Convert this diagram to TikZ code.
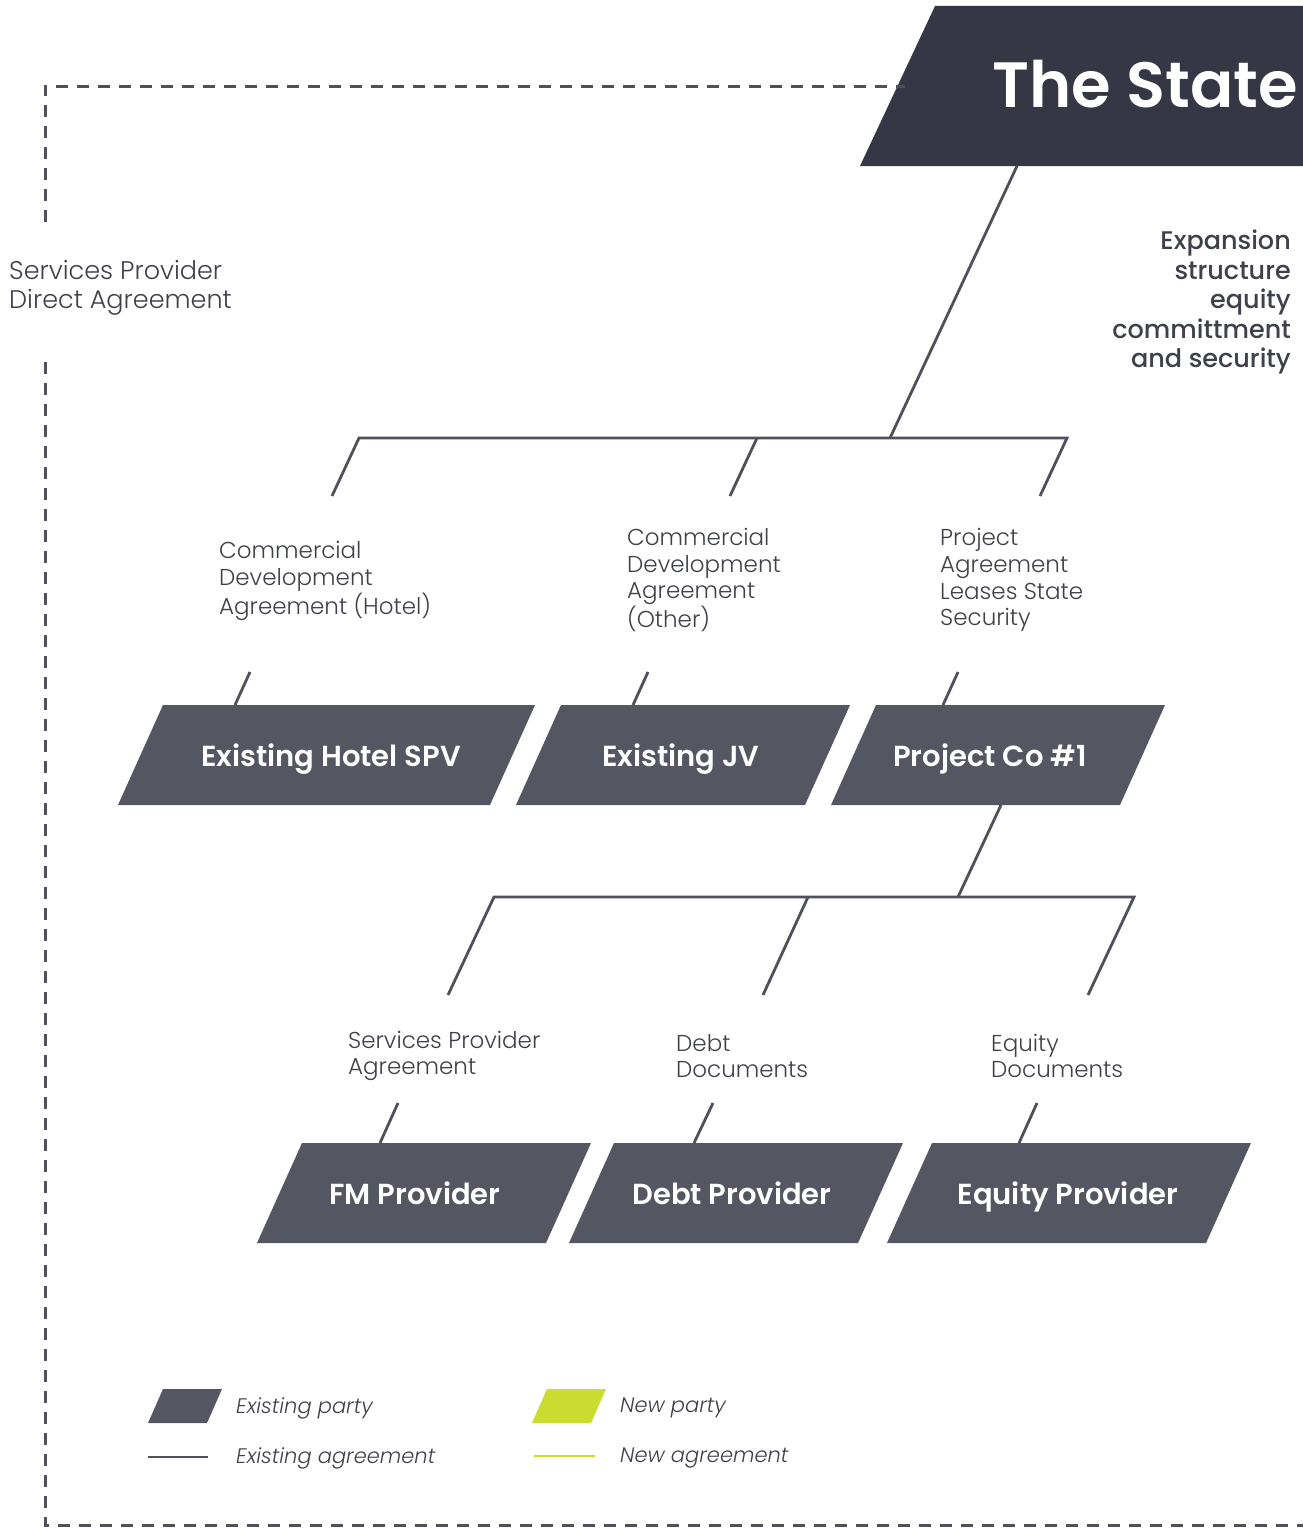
\documentclass[tikz,border=0pt]{standalone}
\usepackage{fontspec}
\setmainfont{Poppins}[UprightFont=* Light, ItalicFont=* Light Italic, BoldFont=* SemiBold]
\newfontfamily\medfont{Poppins Medium}
\definecolor{statecol}{HTML}{353744}
\definecolor{boxcol}{HTML}{545761}
\definecolor{linecol}{HTML}{4E505A}
\definecolor{txtcol}{HTML}{3E404A}
\definecolor{newcol}{HTML}{C9DC2F}
\tikzset{
  partytxt/.style={anchor=base, inner sep=0pt, text=white, font=\bfseries\fontsize{29}{32}\selectfont},
  link/.style={draw=linecol, line width=2.8pt},
  dashlink/.style={draw=linecol, line width=3pt, dash pattern=on 12pt off 9pt},
  lbl/.style={anchor=west, align=left, inner sep=0pt, text=txtcol, font=\fontsize{23}{26.8}\selectfont},
  legtxt/.style={anchor=west, inner sep=0pt, text=txtcol, font=\itshape\fontsize{21}{24}\selectfont}
}
\begin{document}
\begin{tikzpicture}[x=1pt,y=-1pt]
\useasboundingbox (0,0) rectangle (1303,1528);
% The State
\fill[statecol] (860,166) -- (935,6) -- (1303,6) -- (1303,166) -- cycle;
\node[text=white, font=\bfseries\fontsize{64}{70}\selectfont, inner sep=0pt] (state) at (1145,84) {The State};
\coordinate (stateb) at (1017,166);
% Expansion text
\node[anchor=east, align=right, inner sep=0pt, text=txtcol, font=\medfont\fontsize{25.5}{29.5}\selectfont] (exp) at (1291,302)
  {Expansion\\structure\\equity\\committment\\and security};
% Dashed direct agreement
\coordinate (d1) at (45,222);
\coordinate (d2) at (45,86);
\coordinate (d3) at (905,86);
\coordinate (d4) at (45,362);
\coordinate (d5) at (45,1525);
\coordinate (d6) at (1303,1525);
\draw[dashlink] (d1) -- (d2) -- (d3);
\draw[dashlink] (d4) -- (d5) -- (d6);
\node[anchor=west, align=left, inner sep=0pt, text=txtcol, font=\fontsize{25.5}{29}\selectfont] (spda) at (9,288)
  {Services Provider\\Direct Agreement};
% level 1 tree
\coordinate (j1) at (890,438);
\coordinate (b1l) at (359,438);
\coordinate (b1m) at (757,438);
\coordinate (b1r) at (1067,438);
\coordinate (e1l) at (332,496);
\coordinate (e1m) at (730,496);
\coordinate (e1r) at (1040,496);
\draw[link] (stateb) -- (j1);
\draw[link] (e1l) -- (b1l) -- (b1r) -- (e1r);
\draw[link] (b1m) -- (e1m);
\node[lbl] (l1) at (219,581) {Commercial\\Development\\Agreement (Hotel)};
\node[lbl] (l2) at (627,580) {Commercial\\Development\\Agreement\\(Other)};
\node[lbl] (l3) at (940,580) {Project\\Agreement\\Leases State\\Security};
% level 1 boxes
\fill[boxcol] (118,805) -- (163,705) -- (535,705) -- (490,805) -- cycle;
\fill[boxcol] (516,805) -- (561,705) -- (850,705) -- (805,805) -- cycle;
\fill[boxcol] (831,805) -- (876,705) -- (1165,705) -- (1120,805) -- cycle;
\node[partytxt] (hotel) at (331,766) {Existing Hotel SPV};
\node[partytxt] (jv) at (681,766) {Existing JV};
\node[partytxt] (pco) at (990,766) {Project Co \#1};
\coordinate (s1a) at (250,672); \coordinate (s1b) at (235,705);
\coordinate (s2a) at (648,672); \coordinate (s2b) at (633,705);
\coordinate (s3a) at (958,672); \coordinate (s3b) at (943,705);
\draw[link] (s1a) -- (s1b);
\draw[link] (s2a) -- (s2b);
\draw[link] (s3a) -- (s3b);
% level 2 tree
\coordinate (pcob) at (1001,805);
\coordinate (j2) at (958,897);
\coordinate (b2l) at (494,897);
\coordinate (b2m) at (808,897);
\coordinate (b2r) at (1134,897);
\coordinate (e2l) at (448,995);
\coordinate (e2m) at (763,995);
\coordinate (e2r) at (1088,995);
\draw[link] (pcob) -- (j2);
\draw[link] (e2l) -- (b2l) -- (b2r) -- (e2r);
\draw[link] (b2m) -- (e2m);
\node[lbl] (m1) at (348,1056) {Services Provider\\Agreement};
\node[lbl] (m2) at (676,1056) {Debt\\Documents};
\node[lbl] (m3) at (991,1056) {Equity\\Documents};
% level 2 boxes
\fill[boxcol] (257,1243) -- (302,1143) -- (591,1143) -- (546,1243) -- cycle;
\fill[boxcol] (569,1243) -- (614,1143) -- (903,1143) -- (858,1243) -- cycle;
\fill[boxcol] (887,1243) -- (932,1143) -- (1251,1143) -- (1206,1243) -- cycle;
\node[partytxt] (fm) at (415,1204) {FM Provider};
\node[partytxt] (debt) at (732,1204) {Debt Provider};
\node[partytxt] (eq) at (1068,1204) {Equity Provider};
\coordinate (t1a) at (398,1103); \coordinate (t1b) at (380,1143);
\coordinate (t2a) at (713,1103); \coordinate (t2b) at (694,1143);
\coordinate (t3a) at (1037,1103); \coordinate (t3b) at (1019,1143);
\draw[link] (t1a) -- (t1b);
\draw[link] (t2a) -- (t2b);
\draw[link] (t3a) -- (t3b);
% legend
\fill[boxcol] (148,1423) -- (163,1389) -- (222,1389) -- (207,1423) -- cycle;
\node[legtxt] (lgext) at (236,1408) {Existing party};
\fill[newcol] (532,1423) -- (547,1389) -- (606,1389) -- (591,1423) -- cycle;
\node[legtxt] (lgnewt) at (620,1408) {New party};
\coordinate (la1) at (148,1457); \coordinate (la2) at (208,1457);
\coordinate (lb1) at (534,1456); \coordinate (lb2) at (595,1456);
\draw[link] (la1) -- (la2);
\draw[draw=newcol, line width=2.8pt] (lb1) -- (lb2);
\node[legtxt] (lgea) at (236,1458) {Existing agreement};
\node[legtxt] (lgna) at (620,1458) {New agreement};
\end{tikzpicture}
\end{document}
